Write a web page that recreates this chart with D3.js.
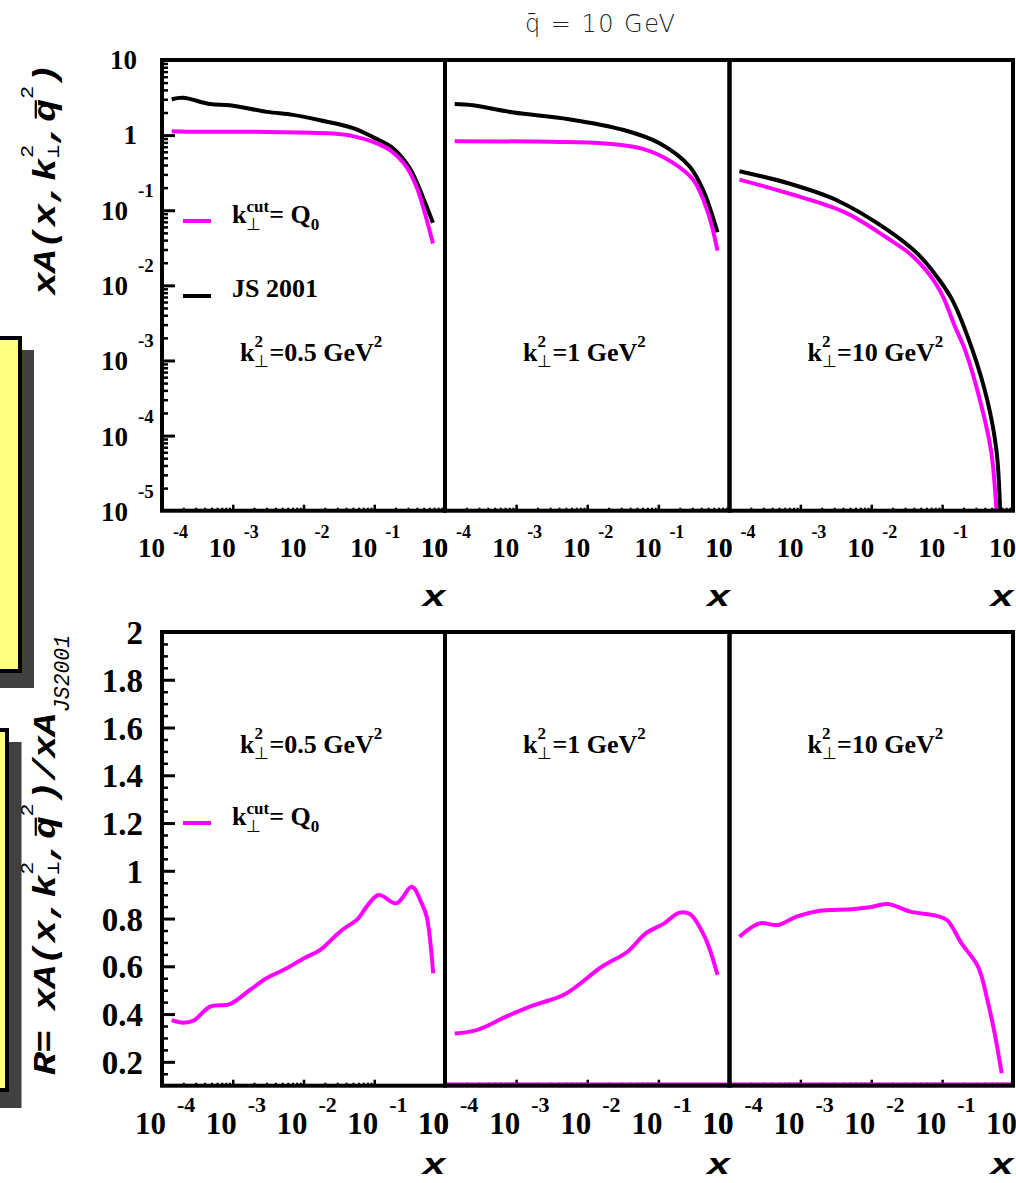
<!DOCTYPE html>
<html>
<head>
<meta charset="utf-8">
<script src="https://cdn.jsdelivr.net/npm/d3@7"></script>
<style>
  html, body { margin: 0; padding: 0; background: #fff; }
  svg { display: block; }
</style>
</head>
<body>
<svg id="fig" width="1016" height="1183"></svg>
<script>
// ---------------- data ----------------
const decades = [-4, -3, -2, -1, 0];
const kValues = ['0.5', '1', '10'];
const topDecadeLabels = [1, 0, -1, -2, -3, -4, -5];
const ratioTicks = [0.2, 0.4, 0.6, 0.8, 1, 1.2, 1.4, 1.6, 1.8, 2];
const ratioTickLabels = ['0.2', '0.4', '0.6', '0.8', '1', '1.2', '1.4', '1.6', '1.8', '2'];

// xA(x, k_perp^2, qbar^2) at qbar = 10 GeV : [x, xA]
const jsK05 = [[1.37e-4, 3.0], [1.98e-4, 3.14], [4.8e-4, 2.59], [9.1e-4, 2.5], [3.05e-3, 2.04],
  [7.1e-3, 1.86], [0.0171, 1.58], [0.050, 1.24], [0.096, 0.94], [0.184, 0.67], [0.32, 0.36],
  [0.489, 0.148], [0.676, 0.068]];
const cutK05 = [[1.37e-4, 1.13], [3.44e-4, 1.11], [1.75e-3, 1.11], [8.9e-3, 1.08], [0.026, 1.05],
  [0.05, 0.97], [0.096, 0.81], [0.167, 0.63], [0.29, 0.37], [0.40, 0.2], [0.52, 0.091], [0.676, 0.036]];

const jsK1 = [[1.37e-4, 2.59], [2.48e-4, 2.49], [9.2e-4, 2.0], [5.5e-3, 1.63], [0.0326, 1.17],
  [0.107, 0.77], [0.277, 0.38], [0.447, 0.167], [0.678, 0.051]];
const cutK1 = [[1.37e-4, 0.83], [3.0e-3, 0.815], [0.018, 0.775], [0.059, 0.66], [0.153, 0.44],
  [0.313, 0.25], [0.503, 0.090], [0.678, 0.029]];

const jsK10 = [[1.38e-4, 0.331], [6.9e-4, 0.227], [3.26e-3, 0.136], [0.0173, 0.054], [0.045, 0.0264],
  [0.092, 0.0117], [0.14, 6.3e-3], [0.269, 1.36e-3], [0.435, 2.93e-4], [0.585, 6.3e-5], [0.658, 1e-5]];
const cutK10 = [[1.38e-4, 0.256], [6.9e-4, 0.167], [4.13e-3, 0.095], [0.0173, 0.042], [0.0354, 0.0262],
  [0.06, 0.0157], [0.0815, 0.0105], [0.105, 0.0068], [0.15, 0.0029], [0.212, 1.36e-3],
  [0.343, 2.93e-4], [0.49, 6.3e-5], [0.585, 1e-5]];

// ratio R = xA(k_cut = Q0) / xA(JS 2001) : [x, R]
const ratioK05 = [[1.37e-4, 0.375], [2.0e-4, 0.364], [2.77e-4, 0.372], [4.8e-4, 0.431], [9.1e-4, 0.442],
  [1.75e-3, 0.501], [3.0e-3, 0.55], [5.8e-3, 0.592], [0.01, 0.633], [0.0171, 0.668], [0.0328, 0.745],
  [0.0596, 0.801], [0.078, 0.85], [0.115, 0.899], [0.207, 0.864], [0.339, 0.933], [0.468, 0.864],
  [0.551, 0.808], [0.681, 0.571]];
const ratioK1 = [[1.37e-4, 0.319], [2.79e-4, 0.333], [7.2e-4, 0.389], [1.66e-3, 0.434], [4.85e-3, 0.483],
  [0.016, 0.598], [0.0368, 0.661], [0.0665, 0.738], [0.121, 0.78], [0.194, 0.824], [0.277, 0.819],
  [0.447, 0.724], [0.678, 0.564]];
const ratioK10 = [[1.38e-4, 0.724], [2.66e-4, 0.78], [4.83e-4, 0.773], [8.8e-4, 0.808], [1.79e-3, 0.832],
  [5.26e-3, 0.839], [9.5e-3, 0.847], [0.0171, 0.861], [0.0354, 0.829], [0.0815, 0.812], [0.117, 0.794],
  [0.188, 0.696], [0.322, 0.598], [0.435, 0.459], [0.551, 0.319], [0.693, 0.152]];

const topSeries = [[jsK05, cutK05], [jsK1, cutK1], [jsK10, cutK10]];
const ratioSeries = [ratioK05, ratioK1, ratioK10];

// ---------------- layout ----------------
const SERIF = "'Liberation Serif','Times New Roman',serif";
const MONO = "'Liberation Mono','Courier New',monospace";
const SANS = "'DejaVu Sans','Liberation Sans',sans-serif";
const MAGENTA = '#ff00ff';

const edges = [162, 445, 729.5, 1013];
const svg = d3.select('#fig');

const xScales = [0, 1, 2].map(i => d3.scaleLog().domain([1e-4, 1]).range([edges[i], edges[i + 1]]));
const yTop = d3.scaleLog().domain([1e-5, 10]).range([510.7, 60]);
const yBot = d3.scaleLinear().domain([0.1, 2]).range([1085.7, 632]);

// ---------------- side boxes ----------------
const side = svg.append('g');
side.append('rect').attr('x', -10).attr('y', 350).attr('width', 44).attr('height', 338).attr('fill', '#404040');
side.append('rect').attr('x', -10).attr('y', 338).attr('width', 30).attr('height', 333)
  .attr('fill', '#ffff80').attr('stroke', '#000').attr('stroke-width', 4);
side.append('rect').attr('x', -10).attr('y', 742).attr('width', 31.5).attr('height', 366).attr('fill', '#404040');
side.append('rect').attr('x', -10).attr('y', 730).attr('width', 17).attr('height', 360)
  .attr('fill', '#ffff80').attr('stroke', '#000').attr('stroke-width', 4);

// ---------------- rich text helper ----------------
function rich(g, pieces, base) {
  let x = 0, hold = 0;
  pieces.forEach(p => {
    if (p.gap) { x += p.gap; return; }
    const o = Object.assign({}, base, p);
    const t = g.append('text')
      .attr('x', x).attr('y', o.dy || 0)
      .attr('font-family', o.ff).attr('font-size', o.fs)
      .attr('font-weight', o.fw || 'normal').attr('font-style', o.fst || 'normal')
      .attr('fill', o.fill || '#000')
      .text(p.t);
    const w = t.node().getComputedTextLength();
    if (p.bar) {
      const by = (o.dy || 0) - o.fs * 0.62;
      g.append('line').attr('x1', x + w * 0.15).attr('x2', x + w * 0.95)
        .attr('y1', by).attr('y2', by).attr('stroke', '#000').attr('stroke-width', 2.2);
    }
    if (p.hold) { hold = w; }
    else { x += Math.max(w, hold); hold = 0; }
  });
  return x;
}

// ---------------- clip paths ----------------
const defs = svg.append('defs');
[0, 1, 2].forEach(i => {
  defs.append('clipPath').attr('id', 'ct' + i).append('rect')
    .attr('x', edges[i]).attr('y', 60).attr('width', edges[i + 1] - edges[i]).attr('height', 510.7 - 60);
  defs.append('clipPath').attr('id', 'cb' + i).append('rect')
    .attr('x', edges[i]).attr('y', 632).attr('width', edges[i + 1] - edges[i]).attr('height', 1085.7 - 632);
});

// ---------------- ticks ----------------
function minorValues(d0, d1) {
  const out = [];
  for (let d = d0; d < d1; d++) for (let m = 2; m <= 9; m++) out.push(m * Math.pow(10, d));
  return out;
}
function styleTicks(g, w) {
  g.select('.domain').remove();
  g.selectAll('.tick line').attr('stroke', '#000').attr('stroke-width', w);
  g.selectAll('.tick text').remove();
}
function xTicks(i, yPos, lastDecade) {
  const xs = xScales[i];
  const majors = decades.filter(d => d > -4 && d <= lastDecade && d < 0).map(d => Math.pow(10, d));
  const gMaj = svg.append('g').attr('transform', `translate(0,${yPos})`)
    .call(d3.axisTop(xs).tickValues(majors).tickSize(6).tickFormat(''));
  styleTicks(gMaj, 2.5);
  const gMin = svg.append('g').attr('transform', `translate(0,${yPos})`)
    .call(d3.axisTop(xs).tickValues(minorValues(-4, lastDecade)).tickSize(3).tickFormat(''));
  styleTicks(gMin, 2);
}

// top row
[0, 1, 2].forEach(i => xTicks(i, 510.7, 0));
// bottom row (first two panels carry ticks up to 10^-1 only)
xTicks(0, 1085.7, -1);
xTicks(1, 1085.7, -1);
xTicks(2, 1085.7, 0);

// y ticks, top-left
{
  const maj = [-4, -3, -2, -1, 0].map(d => Math.pow(10, d));
  const g1 = svg.append('g').attr('transform', `translate(${edges[0]},0)`)
    .call(d3.axisRight(yTop).tickValues(maj).tickSize(13).tickFormat(''));
  styleTicks(g1, 3);
  const g2 = svg.append('g').attr('transform', `translate(${edges[0]},0)`)
    .call(d3.axisRight(yTop).tickValues(minorValues(-5, 1)).tickSize(6).tickFormat(''));
  styleTicks(g2, 2.5);
}
// y ticks, bottom-left
{
  const g1 = svg.append('g').attr('transform', `translate(${edges[0]},0)`)
    .call(d3.axisRight(yBot).tickValues(ratioTicks.filter(v => v < 2)).tickSize(13).tickFormat(''));
  styleTicks(g1, 3);
  const minors = d3.range(0.15, 2, 0.05).filter(v => Math.abs(v * 5 - Math.round(v * 5)) > 1e-6);
  const g2 = svg.append('g').attr('transform', `translate(${edges[0]},0)`)
    .call(d3.axisRight(yBot).tickValues(minors).tickSize(6).tickFormat(''));
  styleTicks(g2, 2.5);
}

// ---------------- curves ----------------
const smooth = d3.curveCatmullRom.alpha(0.5);
[0, 1, 2].forEach(i => {
  const xs = xScales[i];
  const lineTop = d3.line().x(d => xs(d[0])).y(d => yTop(d[1])).curve(smooth);
  const lineBot = d3.line().x(d => xs(d[0])).y(d => yBot(d[1])).curve(smooth);
  const gt = svg.append('g').attr('clip-path', `url(#ct${i})`);
  gt.append('path').attr('d', lineTop(topSeries[i][0])).attr('fill', 'none')
    .attr('stroke', '#000').attr('stroke-width', 4);
  gt.append('path').attr('d', lineTop(topSeries[i][1])).attr('fill', 'none')
    .attr('stroke', MAGENTA).attr('stroke-width', 4);
  const gb = svg.append('g').attr('clip-path', `url(#cb${i})`);
  gb.append('path').attr('d', lineBot(ratioSeries[i])).attr('fill', 'none')
    .attr('stroke', MAGENTA).attr('stroke-width', 4);
});
// thin magenta trace along the lower edge of the right-hand ratio panels
svg.append('line').attr('x1', xScales[1](1e-4)).attr('x2', xScales[2](1))
  .attr('y1', yBot(0.1) - 2.5).attr('y2', yBot(0.1) - 2.5)
  .attr('stroke', '#d000d0').attr('stroke-width', 1.5);

// ---------------- frames ----------------
[0, 1, 2].forEach(i => {
  svg.append('rect').attr('x', edges[i]).attr('y', 60).attr('width', edges[i + 1] - edges[i])
    .attr('height', 510.7 - 60).attr('fill', 'none').attr('stroke', '#000').attr('stroke-width', 4);
  svg.append('rect').attr('x', edges[i]).attr('y', 632).attr('width', edges[i + 1] - edges[i])
    .attr('height', 1085.7 - 632).attr('fill', 'none').attr('stroke', '#000').attr('stroke-width', 4);
});

// ---------------- tick labels ----------------
const lab = svg.append('g').attr('font-family', SERIF).attr('font-weight', 'bold').attr('fill', '#000');
[0, 1, 2].forEach(i => {
  decades.forEach(d => {
    const tx = xScales[i](Math.pow(10, d));
    // top row
    lab.append('text').attr('x', tx + 3).attr('y', 557).attr('font-size', 27)
      .attr('text-anchor', 'end').text('10');
    if (d < 0) lab.append('text').attr('x', tx + 11).attr('y', 538).attr('font-size', 18).text(String(d));
    // bottom row
    lab.append('text').attr('x', tx + 4).attr('y', 1134).attr('font-size', 31)
      .attr('text-anchor', 'end').text('10');
    if (d < 0) lab.append('text').attr('x', tx + 15).attr('y', 1112).attr('font-size', 22).text(String(d));
  });
});
topDecadeLabels.forEach(d => {
  const ty = yTop(Math.pow(10, d));
  if (d === 1 || d === 0) {
    lab.append('text').attr('x', 137).attr('y', ty + 9).attr('font-size', 27)
      .attr('text-anchor', 'end').text(d === 1 ? '10' : '1');
  } else {
    lab.append('text').attr('x', 128).attr('y', ty + 10).attr('font-size', 27)
      .attr('text-anchor', 'end').text('10');
    lab.append('text').attr('x', 138).attr('y', ty - 13).attr('font-size', 19).text(String(d));
  }
});
ratioTicks.forEach((v, j) => {
  lab.append('text').attr('x', 143).attr('y', yBot(v) + 12).attr('font-size', 33)
    .attr('text-anchor', 'end').text(ratioTickLabels[j]);
});

// ---------------- x-axis titles ----------------
[0, 1, 2].forEach(i => {
  [606, 1174].forEach(yy => {
    svg.append('text').attr('x', edges[i + 1] + 1).attr('y', yy).attr('text-anchor', 'end')
      .attr('font-family', MONO).attr('font-weight', 'bold').attr('font-style', 'italic')
      .attr('font-size', 30).attr('textLength', 24).attr('lengthAdjust', 'spacingAndGlyphs').text('x');
  });
});

// ---------------- panel annotations ----------------
const serifBase = { ff: SERIF, fs: 26, fw: 'bold' };
[0, 1, 2].forEach(i => {
  [361, 753].forEach(yy => {
    const g = svg.append('g').attr('transform', `translate(${edges[i] + 78},${yy})`);
    rich(g, [
      { t: 'k' },
      { t: '2', fs: 17, dy: -14, hold: true },
      { t: '\u22A5', fs: 17, dy: 6, fw: 'normal' },
      { t: '=' + kValues[i] + ' GeV' },
      { t: '2', fs: 17, dy: -14 }
    ], serifBase);
  });
});

// ---------------- legends ----------------
function cutLabel(yy) {
  svg.append('line').attr('x1', 183).attr('x2', 211).attr('y1', yy - 2).attr('y2', yy - 2)
    .attr('stroke', MAGENTA).attr('stroke-width', 4);
  const g = svg.append('g').attr('transform', `translate(232,${yy})`);
  rich(g, [
    { t: 'k' },
    { t: 'cut', fs: 17, dy: -11, hold: true },
    { t: '\u22A5', fs: 17, dy: 7, fw: 'normal' },
    { t: '= Q' },
    { t: '0', fs: 17, dy: 7 }
  ], serifBase);
}
cutLabel(223);
cutLabel(825);
svg.append('line').attr('x1', 183).attr('x2', 211).attr('y1', 296).attr('y2', 296)
  .attr('stroke', '#000').attr('stroke-width', 4);
svg.append('text').attr('x', 232).attr('y', 297).attr('font-family', SERIF).attr('font-weight', 'bold')
  .attr('font-size', 26).text('JS 2001');

// ---------------- y-axis titles ----------------
const monoBase = { ff: MONO, fs: 31, fw: 'bold', fst: 'italic' };
{
  const g = svg.append('g').attr('transform', 'translate(55,295) rotate(-90)');
  const inner = g.append('g');
  const w = rich(inner, [
    { t: 'xA(x,k' },
    { t: '2', fs: 18, dy: -22, hold: true, fw: 'normal', fst: 'normal' },
    { t: '\u22A5', fs: 18, dy: 4, fw: 'normal', fst: 'normal' },
    { t: ',' },
    { t: 'q', bar: true },
    { t: '2', fs: 18, dy: -22, fw: 'normal', fst: 'normal' },
    { t: ')' }
  ], monoBase);
  inner.attr('transform', `scale(${232 / w},1)`);
}
{
  const g = svg.append('g').attr('transform', 'translate(55,1075) rotate(-90)');
  const inner = g.append('g');
  const w = rich(inner, [
    { t: 'R=' },
    { gap: 16 },
    { t: 'xA(x,k' },
    { t: '2', fs: 18, dy: -22, hold: true, fw: 'normal', fst: 'normal' },
    { t: '\u22A5', fs: 18, dy: 4, fw: 'normal', fst: 'normal' },
    { t: ',' },
    { t: 'q', bar: true },
    { t: '2', fs: 18, dy: -22, fw: 'normal', fst: 'normal' },
    { t: ')/xA' }
  ], monoBase);
  const target = 362;
  inner.attr('transform', `scale(${target / w},1)`);
  g.append('text').attr('x', target + 1).attr('y', 14).attr('font-family', MONO)
    .attr('font-style', 'italic').attr('font-size', 22)
    .attr('textLength', 77).attr('lengthAdjust', 'spacingAndGlyphs').text('JS2001');
}

// ---------------- title ----------------
svg.append('text').attr('x', 525).attr('y', 32).attr('font-family', SANS).attr('font-weight', 200)
  .attr('font-size', 24).attr('fill', '#222')
  .attr('textLength', 150).attr('lengthAdjust', 'spacing')
  .text('q\u0304 = 10 GeV');
</script>
</body>
</html>
